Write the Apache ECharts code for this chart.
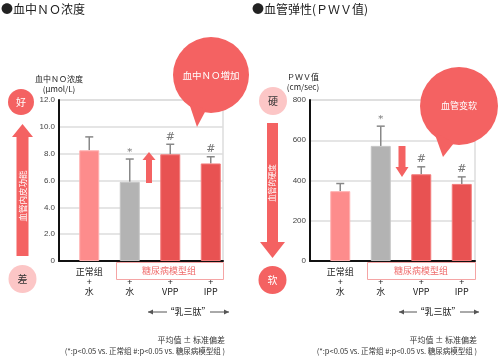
<!DOCTYPE html>
<html><head><meta charset="utf-8">
<script src="https://cdn.jsdelivr.net/npm/echarts@6/dist/echarts.min.js"></script>
<style>html,body{margin:0;padding:0;background:#fff}#c{width:500px;height:360px}</style>
</head><body><div id="c"></div>
<script>
const categories = ['正常组\n+\n水', '\n+\n水', '\n+\nVPP', '\n+\nIPP'];
const noMeans = [8.25, 5.9, 7.95, 7.27];
const noErr = [1.0, 1.7, 0.75, 0.5];
const noMarks = ['', '*', '#', '#'];
const pwvMeans = [347, 572, 431, 383];
const pwvErr = [38, 98, 37, 35];
const pwvMarks = ['', '*', '#', '#'];
const noAxis = {min: 0, max: 12, interval: 2};
const pwvAxis = {min: 0, max: 800, interval: 200};

const CJK = '"Noto Sans CJK SC", sans-serif';
const LAT = '"Liberation Sans", Arial, sans-serif';
const RED = '#f46262';
const PINK = '#fcc6c6';
const barFill = ['#fd8c8c', '#b3b3b3', '#e85252', '#e85252'];
const barBorder = ['#ffb0b0', '#c4c4c4', '#f37b7b', '#f37b7b'];

function barData(vals) {
  return vals.map((v, i) => ({value: v, itemStyle: {color: barFill[i], borderColor: barBorder[i], borderWidth: 1}}));
}
function errRender(marks) {
  return function (params, api) {
    const x = api.value(0), m = api.value(1), e = api.value(2);
    const p0 = api.coord([x, m]);
    const p1 = api.coord([x, m + e]);
    const hw = 4;
    const mk = marks[params.dataIndex];
    return {type: 'group', children: [
      {type: 'line', shape: {x1: p0[0], y1: p0[1], x2: p1[0], y2: p1[1]}, style: {stroke: '#888', lineWidth: 1.5}},
      {type: 'line', shape: {x1: p1[0] - hw, y1: p1[1], x2: p1[0] + hw, y2: p1[1]}, style: {stroke: '#888', lineWidth: 1.5}},
      {type: 'text', style: {text: mk, x: p1[0], y: p1[1] - 2, align: 'center', verticalAlign: 'bottom',
        fill: '#777', font: (mk === '#' ? '11px ' : '10px ') + '"DejaVu Serif", serif'}}
    ]};
  };
}
function frameAxes(gi, ax, fmt) {
  return {
    x: {gridIndex: gi, type: 'value', min: 0, max: 1, axisLine: {show: true, lineStyle: {color: '#111', width: 2}},
        axisTick: {show: false}, axisLabel: {show: false}, splitLine: {show: false}},
    y: {gridIndex: gi, type: 'value', min: ax.min, max: ax.max, interval: ax.interval,
        axisLine: {show: true, lineStyle: {color: '#111', width: 2}}, axisTick: {show: false},
        axisLabel: {formatter: fmt, fontSize: 8, color: '#444', fontFamily: LAT, margin: 4},
        splitLine: {lineStyle: {color: '#ddd', width: 1.5}}}
  };
}
function barAxes(gi, ax) {
  return {
    x: {gridIndex: gi, type: 'category', data: categories, axisLine: {show: false}, axisTick: {show: false},
        axisLabel: {fontSize: 9, lineHeight: 10, color: '#222', fontFamily: CJK, margin: 6, interval: 0}},
    y: {gridIndex: gi, type: 'value', min: ax.min, max: ax.max, show: false, splitLine: {show: false}}
  };
}
const f0 = frameAxes(0, noAxis, v => v === 0 ? '0' : v.toFixed(1));
const b1 = barAxes(1, noAxis);
const f2 = frameAxes(2, pwvAxis, v => String(v));
const b3 = barAxes(3, pwvAxis);

function txt(t, x, y, size, color, align, family, extra) {
  return Object.assign({type: 'text', x: x, y: y, z: 10,
    style: {text: t, align: align || 'center', verticalAlign: 'middle', fill: color, font: size + 'px ' + (family || CJK)}}, extra || {});
}
function circ(cx, cy, r, color) { return {type: 'circle', shape: {cx: cx, cy: cy, r: r}, style: {fill: color}, z: 5}; }
function poly(pts, color) { return {type: 'polygon', shape: {points: pts}, style: {fill: color}, z: 5}; }
function hline(x1, x2, y) {
  return [{type: 'line', shape: {x1: x1, y1: y, x2: x2, y2: y}, style: {stroke: '#555', lineWidth: 1}, z: 5}];
}
function arrowHeadL(x, y) { return poly([[x, y], [x + 5, y - 2.5], [x + 5, y + 2.5]], '#555'); }
function arrowHeadR(x, y) { return poly([[x, y], [x - 5, y - 2.5], [x - 5, y + 2.5]], '#555'); }

const graphics = [
  txt('●血中ＮＯ浓度', 1, 9, 12, '#222', 'left'),
  txt('●血管弹性(ＰＷＶ值)', 252, 9, 12, '#222', 'left'),
  // left side panel
  txt('血中ＮＯ浓度', 59, 79, 8, '#222'),
  txt('(μmol/L)', 59, 89, 8, '#222'),
  circ(21, 102, 13, RED), txt('好', 21, 102, 10, '#fff'),
  poly([[22.5, 124], [33, 137], [28.5, 137], [28.5, 256], [16.5, 256], [16.5, 137], [12, 137]], RED),
  txt('血管内皮功能', 22.5, 196, 8.5, '#fff', 'center', CJK, {rotation: Math.PI / 2}),
  circ(22.5, 279, 14, PINK), txt('差', 22.5, 279, 10, '#333'),
  circ(211, 75, 38, RED), poly([[188, 100], [206, 110], [197, 127]], RED),
  txt('血中ＮＯ増加', 211, 75, 9.5, '#fff'),
  poly([[149, 152], [155.5, 160], [152, 160], [152, 183], [146, 183], [146, 160], [142.5, 160]], RED),
  {type: 'rect', shape: {x: 116.5, y: 262.5, width: 107, height: 17}, style: {fill: '#fff', stroke: '#f5a5a5', lineWidth: 1}, z: 4},
  txt('糖尿病模型组', 169, 271, 9, '#ef6b6b'),
  txt('“乳三肽”', 188, 312, 9, '#222'),
  ...hline(148, 167, 312), arrowHeadL(148, 312),
  ...hline(210, 229, 312), arrowHeadR(229, 312),
  txt('平均值 ± 标准偏差', 225, 340, 8, '#333', 'right'),
  txt('(*:p<0.05 vs. 正常组 #:p<0.05 vs. 糖尿病模型组 )', 225, 351, 7.5, '#333', 'right'),
  // right side panel
  txt('ＰＷＶ值', 303, 77, 8, '#222'),
  txt('(cm/sec)', 303, 87, 8, '#222'),
  circ(273, 101, 14, PINK), txt('硬', 273, 101, 10, '#333'),
  poly([[267, 123], [278, 123], [278, 242], [285, 242], [272.5, 258], [260, 242], [267, 242]], RED),
  txt('血管的硬度', 272.5, 183, 7.5, '#fff', 'center', CJK, {rotation: Math.PI / 2}),
  circ(272.5, 280, 14, RED), txt('软', 272.5, 280, 10, '#fff'),
  circ(459, 106, 39, RED), poly([[434, 132], [454, 143], [443, 157]], RED),
  txt('血管变软', 459, 106, 9, '#fff'),
  poly([[398.5, 146], [405.5, 146], [405.5, 167], [408.5, 167], [402, 177], [395.5, 167], [398.5, 167]], RED),
  {type: 'rect', shape: {x: 367.5, y: 262.5, width: 108, height: 17}, style: {fill: '#fff', stroke: '#f5a5a5', lineWidth: 1}, z: 4},
  txt('糖尿病模型组', 421, 271, 9, '#ef6b6b'),
  txt('“乳三肽”', 438, 312, 9, '#222'),
  ...hline(399, 417, 312), arrowHeadL(399, 312),
  ...hline(460, 479, 312), arrowHeadR(479, 312),
  txt('平均值 ± 标准偏差', 477, 340, 8, '#333', 'right'),
  txt('(*:p<0.05 vs. 正常组 #:p<0.05 vs. 糖尿病模型组 )', 477, 351, 7.5, '#333', 'right')
];

const chart = echarts.init(document.getElementById('c'), null, {renderer: 'canvas'});
chart.setOption({
  animation: false,
  backgroundColor: '#fff',
  grid: [
    {left: 59, top: 100, width: 164, height: 161, show: true, borderColor: '#ddd', borderWidth: 1.5, backgroundColor: 'transparent'},
    {left: 69, top: 100, width: 162, height: 161},
    {left: 310, top: 100, width: 165, height: 161, show: true, borderColor: '#ddd', borderWidth: 1.5, backgroundColor: 'transparent'},
    {left: 320, top: 100, width: 162, height: 161}
  ],
  xAxis: [f0.x, b1.x, f2.x, b3.x],
  yAxis: [f0.y, b1.y, f2.y, b3.y],
  series: [
    {type: 'bar', xAxisIndex: 1, yAxisIndex: 1, barWidth: 20, data: barData(noMeans), z: 3},
    {type: 'custom', xAxisIndex: 1, yAxisIndex: 1, renderItem: errRender(noMarks), z: 2,
     data: noMeans.map((m, i) => [i, m, noErr[i]])},
    {type: 'bar', xAxisIndex: 3, yAxisIndex: 3, barWidth: 20, data: barData(pwvMeans), z: 3},
    {type: 'custom', xAxisIndex: 3, yAxisIndex: 3, renderItem: errRender(pwvMarks), z: 2,
     data: pwvMeans.map((m, i) => [i, m, pwvErr[i]])}
  ],
  graphic: graphics
});
</script></body></html>
